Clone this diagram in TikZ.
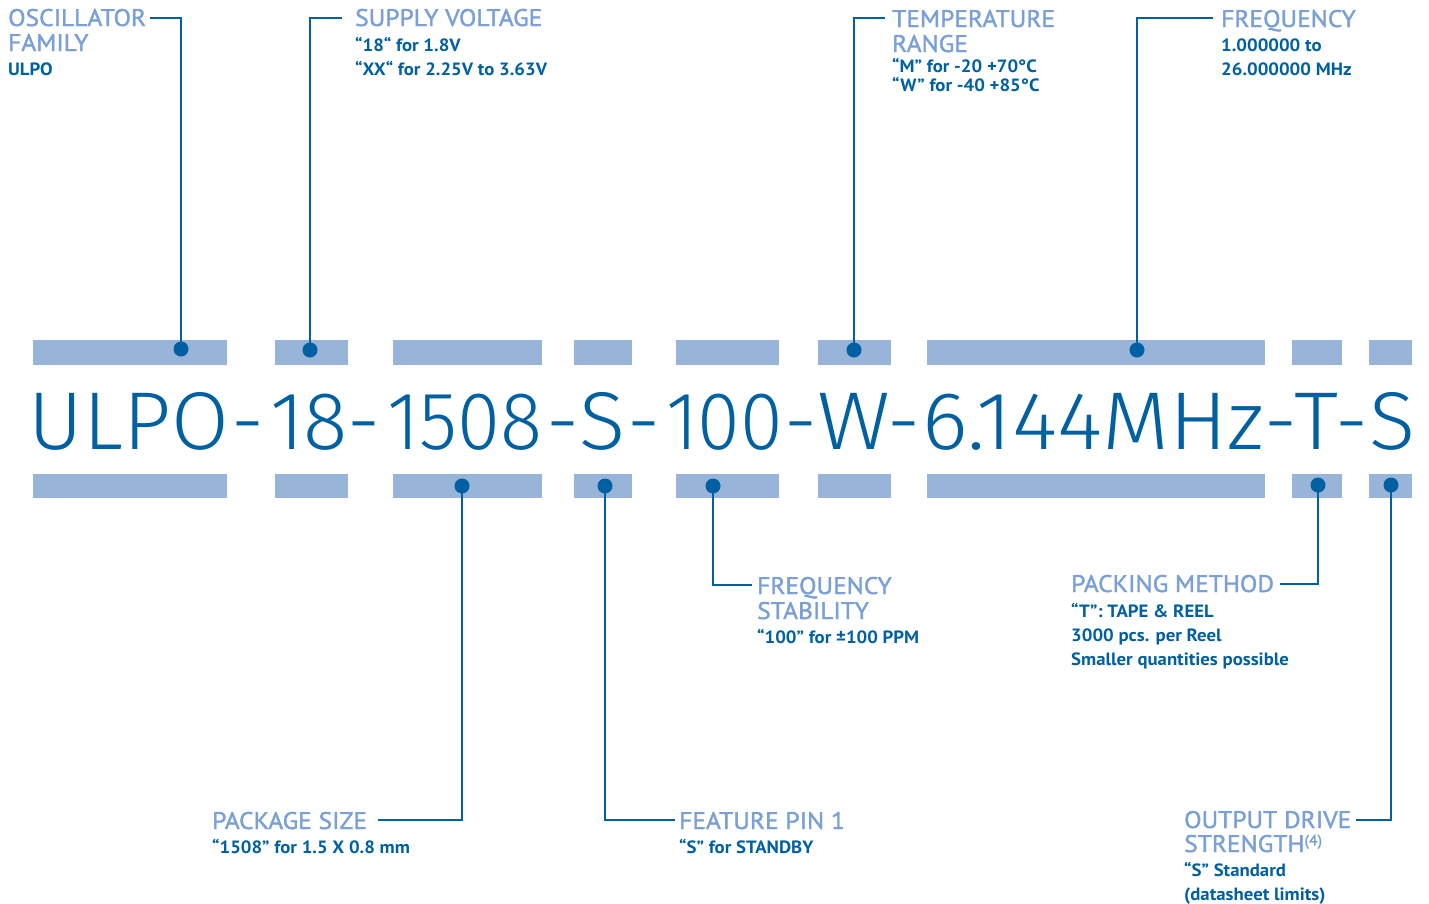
\documentclass[tikz,border=0pt]{standalone}
\usepackage{graphicx}
\usepackage{fontspec}
\setmainfont{PT Sans}
\newfontfamily\bigfont{Fira Sans Light}
\newfontfamily\ttlfont{PT Sans}[FakeBold=1.6, FakeStretch=1.06]
\newfontfamily\subfont{PT Sans}[FakeStretch=1.055]
\newcommand{\fitgrp}[2]{\resizebox{#1}{\height}{#2}}
\definecolor{ttl}{RGB}{122,160,214}
\definecolor{dk}{RGB}{0,96,162}
\definecolor{barc}{RGB}{152,180,217}
\tikzset{
  barbox/.style={fill=barc, draw=none, inner sep=0pt, outer sep=0pt, minimum height=24.5pt, anchor=north west},
  dot/.style={circle, fill=dk, draw=none, inner sep=0pt, minimum size=15pt},
  conn/.style={draw=dk, line width=2.8pt},
  ttlt/.style={anchor=base west, inner sep=0pt, text=ttl, font=\fontsize{24}{24}\ttlfont},
  subt/.style={anchor=base west, inner sep=0pt, text=dk, font=\fontsize{17.8}{17.8}\subfont\bfseries},
  bigt/.style={anchor=base, inner sep=0pt, text=dk, font=\fontsize{82}{82}\bigfont},
}
\begin{document}
\begin{tikzpicture}[x=1pt,y=-1pt]
\useasboundingbox (0,0) rectangle (1429,903);
% bars
\foreach \i/\a/\b in {1/33/227,2/275/348,3/393/542,4/574/632,5/676/779,6/818/891,7/927/1265,8/1292/1342,9/1369/1412}{
  \node[barbox, minimum width={(\b-\a)*1pt}] (tb\i) at (\a,340) {};
  \node[barbox, minimum width={(\b-\a)*1pt}] (bb\i) at (\a,473.5) {};
}
% big part number
\node[bigt] (g1) at (129,449) {\fitgrp{200pt}{ULPO}};
\node[bigt] (g2) at (309,449) {\fitgrp{78pt}{18}};
\node[bigt] (g3) at (464.5,449) {\fitgrp{155pt}{1508}};
\node[bigt] (g4) at (602.5,449) {\fitgrp{46pt}{S}};
\node[bigt] (g5) at (724.5,449) {\fitgrp{117pt}{100}};
\node[bigt] (g6) at (853.5,449) {\fitgrp{73pt}{W}};
\node[bigt] (g7) at (1093,449) {\fitgrp{342pt}{6.144MHz}};
\node[bigt] (g8) at (1316.5,449) {\fitgrp{44pt}{T}};
\node[bigt] (g9) at (1392.5,449) {\fitgrp{46pt}{S}};
\foreach \i/\x in {1/248,2/364,3/563,4/643.5,5/800.5,6/904,7/1281,8/1352}{
  \node[bigt] (h\i) at (\x,449) {-};
}
% labels top
\node[ttlt] (osc1) at (8,26) {OSCILLATOR};
\node[ttlt] (osc2) at (8,51) {FAMILY};
\node[subt] (osc3) at (8,75) {ULPO};
\node[ttlt] (sup1) at (355,26) {SUPPLY VOLTAGE};
\node[subt] (sup2) at (355,51) {“18“ for 1.8V};
\node[subt] (sup3) at (355,75) {“XX“ for 2.25V to 3.63V};
\node[ttlt] (tmp1) at (892,27) {TEMPERATURE};
\node[ttlt] (tmp2) at (892,52) {RANGE};
\node[subt] (tmp3) at (892,72) {“M” for -20 +70°C};
\node[subt] (tmp4) at (892,91) {“W” for -40 +85°C};
\node[ttlt] (frq1) at (1221,27) {FREQUENCY};
\node[subt] (frq2) at (1221,51) {1.000000 to};
\node[subt] (frq3) at (1221,75) {26.000000 MHz};
% labels bottom
\node[ttlt] (stb1) at (757,594) {FREQUENCY};
\node[ttlt] (stb2) at (757,619) {STABILITY};
\node[subt] (stb3) at (757,643) {“100” for ±100 PPM};
\node[ttlt] (pck1) at (1071,592) {PACKING METHOD};
\node[subt] (pck2) at (1071,617) {“T”: TAPE \& REEL};
\node[subt] (pck3) at (1071,641) {3000 pcs. per Reel};
\node[subt] (pck4) at (1071,665) {Smaller quantities possible};
\node[ttlt] (pkg1) at (212,829) {PACKAGE SIZE};
\node[subt] (pkg2) at (212,853) {“1508” for 1.5 X 0.8 mm};
\node[ttlt] (fp1) at (679,829) {FEATURE PIN 1};
\node[subt] (fp2) at (679,853) {“S” for STANDBY};
\node[ttlt] (out1) at (1184,828) {OUTPUT DRIVE};
\node[ttlt] (out2) at (1184,852) {STRENGTH{\fontsize{15}{15}\selectfont\raisebox{6.5pt}{(4)}}};
\node[subt] (out3) at (1184,876) {“S” Standard};
\node[subt] (out4) at (1184,900) {(datasheet limits)};
% dots
\node[dot] (d1) at (181,349) {};
\node[dot] (d2) at (310,350) {};
\node[dot] (d3) at (854,350) {};
\node[dot] (d4) at (1137,350) {};
\node[dot] (d5) at (462,486) {};
\node[dot] (d6) at (605,486) {};
\node[dot] (d7) at (713,486) {};
\node[dot] (d8) at (1318,485) {};
\node[dot] (d9) at (1391,485) {};
% connector ends
\coordinate (e1) at (150,18);
\coordinate (e2) at (342,18);
\coordinate (e3) at (885,18);
\coordinate (e4) at (1213,18);
\coordinate (e5) at (378,820);
\coordinate (e6) at (675,820);
\coordinate (e7) at (752,585);
\coordinate (e8) at (1280,584);
\coordinate (e9) at (1356,820);
\foreach \i in {1,...,9}{
  \draw[conn] (d\i.center) |- (e\i);
}
\end{tikzpicture}
\end{document}
